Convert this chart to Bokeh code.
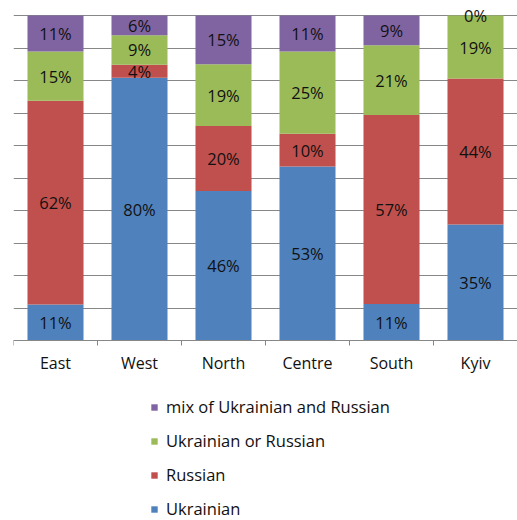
from bokeh.plotting import figure
from bokeh.models import ColumnDataSource, Range1d, FixedTicker, LabelSet, Legend, LegendItem
from bokeh.core.properties import value
from bokeh.embed import file_html
from bokeh.resources import INLINE

categories = ["East", "West", "North", "Centre", "South", "Kyiv"]
ukrainian = [11, 80, 46, 53, 11, 35]
russian = [62, 4, 20, 10, 57, 44]
either = [15, 9, 19, 25, 21, 19]
mix = [11, 6, 15, 11, 9, 0]
series_names = ["Ukrainian", "Russian", "Ukrainian or Russian", "mix of Ukrainian and Russian"]
colors = ["#4F81BD", "#C0504D", "#9BBB59", "#8064A2"]

FONT = "Open Sans"
series = [ukrainian, russian, either, mix]
keys = ["s0", "s1", "s2", "s3"]
xs = list(range(len(categories)))
totals = [sum(s[i] for s in series) for i in xs]

data = {"x": xs}
for k, s in zip(keys, series):
    data[k] = [s[i] / totals[i] * 100 for i in xs]
src = ColumnDataSource(data)

# label positions (segment centers)
lx, ly, lt = [], [], []
for i in xs:
    base = 0.0
    for k, s in zip(keys, series):
        h = data[k][i]
        lx.append(i)
        ly.append(base + h / 2)
        lt.append(f"{s[i]}%")
        base += h
lsrc = ColumnDataSource(dict(x=lx, y=ly, text=lt))

# layout: the frame covers the whole area below the top border; 0..100 occupies 325 px
PX_PER_PCT = 3.25
TOP_PAD_PX = 7
BELOW_PX = 180
p = figure(width=517, height=520, x_range=Range1d(-0.5, len(categories) - 0.5),
           y_range=Range1d(-BELOW_PX / PX_PER_PCT, 100 + TOP_PAD_PX / PX_PER_PCT),
           output_backend="svg", toolbar_location=None,
           min_border_left=13, min_border_right=0, min_border_top=8, min_border_bottom=0)
p.outline_line_color = None
p.xgrid.visible = False
p.yaxis.visible = False
p.ygrid.ticker = FixedTicker(ticks=list(range(0, 101, 10)))
p.ygrid.grid_line_color = "#878787"
p.ygrid.grid_line_width = 1

rs = p.vbar_stack(keys, x="x", width=0.667, color=colors, line_color=None, source=src)

labels = LabelSet(x="x", y="y", text="text", source=lsrc, text_align="center",
                  text_baseline="middle", text_font=value(FONT), text_font_size="16.5px",
                  text_color="#111111")
p.add_layout(labels)

ax = p.xaxis[0]
ax.fixed_location = 0
ax.ticker = FixedTicker(ticks=xs, minor_ticks=[i - 0.5 for i in range(len(categories) + 1)])
ax.major_label_overrides = {i: c for i, c in zip(xs, categories)}
ax.major_tick_out = 0
ax.major_tick_in = 0
ax.major_tick_line_color = None
ax.minor_tick_out = 5
ax.minor_tick_in = 0
ax.minor_tick_line_color = "#878787"
ax.axis_line_color = "#878787"
ax.major_label_standoff = 6
ax.major_label_text_font = FONT
ax.major_label_text_font_size = "16px"
ax.major_label_text_color = "#111111"

items = [LegendItem(label=series_names[i], renderers=[rs[i]]) for i in reversed(range(4))]
legend = Legend(items=items, location=(137, 0), orientation="vertical",
                glyph_width=8, glyph_height=8, label_standoff=8, spacing=11, label_height=20,
                padding=0, margin=0, border_line_color=None, background_fill_alpha=0,
                label_text_font=FONT, label_text_font_size="16.5px", label_text_color="#111111")
p.add_layout(legend, "center")

open("out.html", "w").write(file_html(p, INLINE))
